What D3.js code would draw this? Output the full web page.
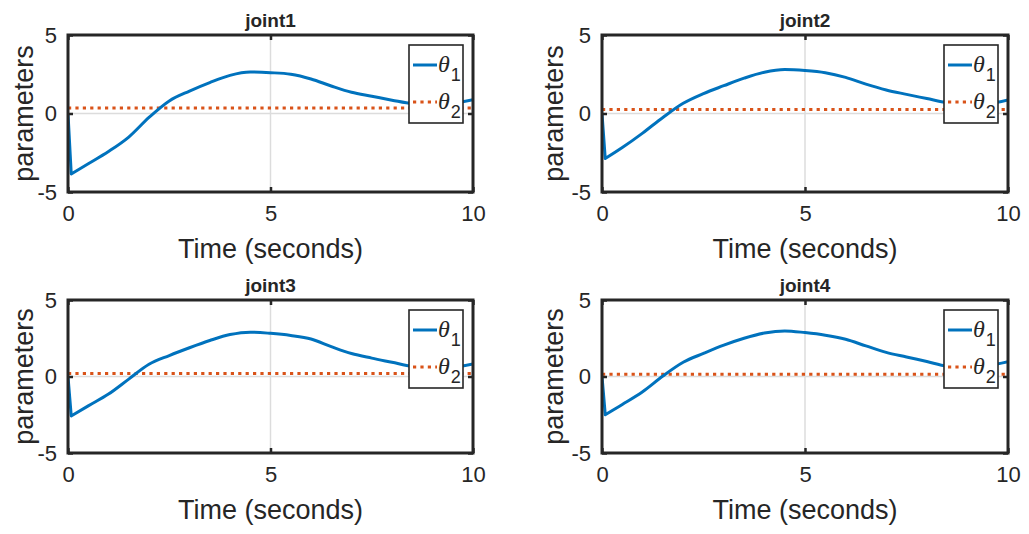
<!DOCTYPE html>
<html>
<head>
<meta charset="utf-8">
<script src="https://cdn.jsdelivr.net/npm/d3@7"></script>
<style>
  html, body { margin: 0; padding: 0; background: #fff; }
  svg { display: block; }
  text { font-family: "Liberation Sans", Arial, Helvetica, sans-serif; fill: #262626; }
</style>
</head>
<body>
<svg id="chart" width="1029" height="534"></svg>
<script>
// Sample times (seconds) shared by all joints
const time = [0, 0.08, 0.5, 1.0, 1.5, 2.0, 2.5, 3.0, 3.5, 4.0, 4.5, 5.0, 5.5, 6.0, 6.5, 7.0, 7.5, 8.0, 8.5, 9.0, 9.5, 10];

// theta_1 trajectories per joint
const theta1Joint1 = [0, -3.85, -3.2, -2.42, -1.5, -0.25, 0.8, 1.43, 1.97, 2.43, 2.64, 2.6, 2.5, 2.2, 1.75, 1.35, 1.1, 0.85, 0.62, 0.55, 0.65, 0.88];
const theta1Joint2 = [0, -2.87, -2.17, -1.25, -0.25, 0.65, 1.27, 1.77, 2.25, 2.63, 2.8, 2.74, 2.6, 2.3, 1.87, 1.5, 1.22, 0.95, 0.68, 0.55, 0.62, 0.87];
const theta1Joint3 = [0, -2.58, -1.92, -1.15, -0.17, 0.8, 1.37, 1.88, 2.35, 2.74, 2.9, 2.82, 2.68, 2.45, 1.95, 1.5, 1.2, 0.93, 0.66, 0.55, 0.6, 0.82];
const theta1Joint4 = [0, -2.5, -1.83, -1.0, 0.03, 0.93, 1.51, 2.05, 2.5, 2.84, 2.98, 2.87, 2.7, 2.43, 2.0, 1.58, 1.28, 0.98, 0.68, 0.6, 0.7, 0.96];

// theta_2 is constant for each joint
const theta2Values = [0.35, 0.25, 0.2, 0.15];

const jointNames = ["joint1", "joint2", "joint3", "joint4"];
const xTicks = [0, 5, 10];
const yTicks = [-5, 0, 5];
const xLabel = "Time (seconds)";
const yLabel = "parameters";
const theta1Series = [theta1Joint1, theta1Joint2, theta1Joint3, theta1Joint4];

const BLUE = "#0072BD", ORANGE = "#D95319", INK = "#262626";
const SANS = '"Liberation Sans", Arial, Helvetica, sans-serif';

// Plot-area boxes for the 2x2 grid
const boxes = [
  { x0: 68,  x1: 473,  y0: 35,  y1: 192, ylabOff: 35 },
  { x0: 602, x1: 1008, y0: 35,  y1: 192, ylabOff: 39 },
  { x0: 68,  x1: 473,  y0: 300, y1: 453, ylabOff: 35 },
  { x0: 602, x1: 1008, y0: 300, y1: 453, ylabOff: 39 }
];

const svg = d3.select("#chart");
const defs = svg.append("defs");
const fmt = d => String(d);

jointNames.forEach((name, i) => {
  const b = boxes[i];
  const x = d3.scaleLinear().domain([0, 10]).range([b.x0, b.x1]);
  const y = d3.scaleLinear().domain([-5, 5]).range([b.y1, b.y0]);
  const g = svg.append("g");

  defs.append("clipPath").attr("id", "clip" + i)
    .append("rect").attr("x", b.x0).attr("y", b.y0)
    .attr("width", b.x1 - b.x0).attr("height", b.y1 - b.y0);

  // grid lines
  g.append("g").selectAll("line").data(xTicks).join("line")
    .attr("x1", d => x(d)).attr("x2", d => x(d))
    .attr("y1", b.y0).attr("y2", b.y1)
    .attr("stroke", "#dcdcdc").attr("stroke-width", 1.5);
  g.append("g").selectAll("line").data(yTicks).join("line")
    .attr("x1", b.x0).attr("x2", b.x1)
    .attr("y1", d => y(d)).attr("y2", d => y(d))
    .attr("stroke", "#dcdcdc").attr("stroke-width", 1.5);

  const plot = g.append("g").attr("clip-path", `url(#clip${i})`);

  // theta_2 (dotted constant)
  const th2 = time.map(t => ({ t, v: theta2Values[i] }));
  plot.append("path")
    .datum(th2)
    .attr("fill", "none").attr("stroke", ORANGE)
    .attr("stroke-width", 3).attr("stroke-dasharray", "3.2 4.2")
    .attr("d", d3.line().x(d => x(d.t)).y(d => y(d.v)));

  // theta_1 trajectory: sharp initial drop, smooth recovery afterwards
  const th1 = time.map((t, k) => ({ t, v: theta1Series[i][k] }));
  const straight = d3.line().x(d => x(d.t)).y(d => y(d.v));
  const smooth = d3.line().curve(d3.curveMonotoneX).x(d => x(d.t)).y(d => y(d.v));
  const dPath = straight(th1.slice(0, 2)) + smooth(th1.slice(1)).replace(/^M/, "L");
  plot.append("path")
    .attr("fill", "none").attr("stroke", BLUE)
    .attr("stroke-width", 3).attr("stroke-linejoin", "round")
    .attr("d", dPath);

  // axes with inward ticks on all four sides
  const tl = 5;
  const styleTicks = a => {
    a.select(".domain").remove();
    a.selectAll("line").attr("stroke", INK).attr("stroke-width", 2.5);
    a.selectAll("text").style("font-size", "22px").style("font-family", SANS).attr("fill", INK);
  };
  g.append("g").attr("transform", `translate(0,${b.y1})`)
    .call(d3.axisBottom(x).tickValues(xTicks).tickFormat(fmt).tickSizeInner(-tl).tickSizeOuter(0).tickPadding(13))
    .call(styleTicks);
  g.append("g").attr("transform", `translate(0,${b.y0})`)
    .call(d3.axisTop(x).tickValues(xTicks).tickSizeInner(-tl).tickSizeOuter(0).tickFormat(""))
    .call(styleTicks);
  g.append("g").attr("transform", `translate(${b.x0},0)`)
    .call(d3.axisLeft(y).tickValues(yTicks).tickFormat(fmt).tickSizeInner(-tl).tickSizeOuter(0).tickPadding(11))
    .call(styleTicks);
  g.append("g").attr("transform", `translate(${b.x1},0)`)
    .call(d3.axisRight(y).tickValues(yTicks).tickSizeInner(-tl).tickSizeOuter(0).tickFormat(""))
    .call(styleTicks);

  // box
  g.append("rect")
    .attr("x", b.x0).attr("y", b.y0)
    .attr("width", b.x1 - b.x0).attr("height", b.y1 - b.y0)
    .attr("fill", "none").attr("stroke", INK).attr("stroke-width", 3);

  // title
  g.append("text")
    .attr("x", (b.x0 + b.x1) / 2).attr("y", b.y0 - 8)
    .attr("text-anchor", "middle").style("font-size", "19px").attr("font-weight", "bold")
    .text(name);

  // axis labels
  g.append("text")
    .attr("x", (b.x0 + b.x1) / 2).attr("y", b.y1 + 66)
    .attr("text-anchor", "middle").style("font-size", "27px")
    .text(xLabel);
  g.append("text")
    .attr("transform", `translate(${b.x0 - b.ylabOff},${(b.y0 + b.y1) / 2}) rotate(-90)`)
    .attr("text-anchor", "middle").style("font-size", "27px")
    .text(yLabel);

  // legend
  const lg = g.append("g").attr("transform", `translate(${b.x1 - 64},${b.y0 + 10})`);
  lg.append("rect").attr("width", 54).attr("height", 78)
    .attr("fill", "#fff").attr("stroke", INK).attr("stroke-width", 1.6);
  const entries = [
    { color: BLUE, dash: null, w: 3, sub: "1", cy: 20 },
    { color: ORANGE, dash: "3.2 4.2", w: 3, sub: "2", cy: 57 }
  ];
  entries.forEach(e => {
    lg.append("line").attr("x1", 4).attr("x2", 28).attr("y1", e.cy).attr("y2", e.cy)
      .attr("stroke", e.color).attr("stroke-width", e.w)
      .attr("stroke-dasharray", e.dash);
    const t = lg.append("text").attr("x", 29).attr("y", e.cy + 7)
      .style("font-size", "24px")
      .style("font-family", '"Liberation Serif", "Times New Roman", serif');
    t.append("tspan").attr("font-style", "italic").text("θ");
    t.append("tspan").attr("dy", 9).attr("dx", 1).style("font-size", "18px")
      .style("font-family", SANS).text(e.sub);
  });
});
</script>
</body>
</html>
